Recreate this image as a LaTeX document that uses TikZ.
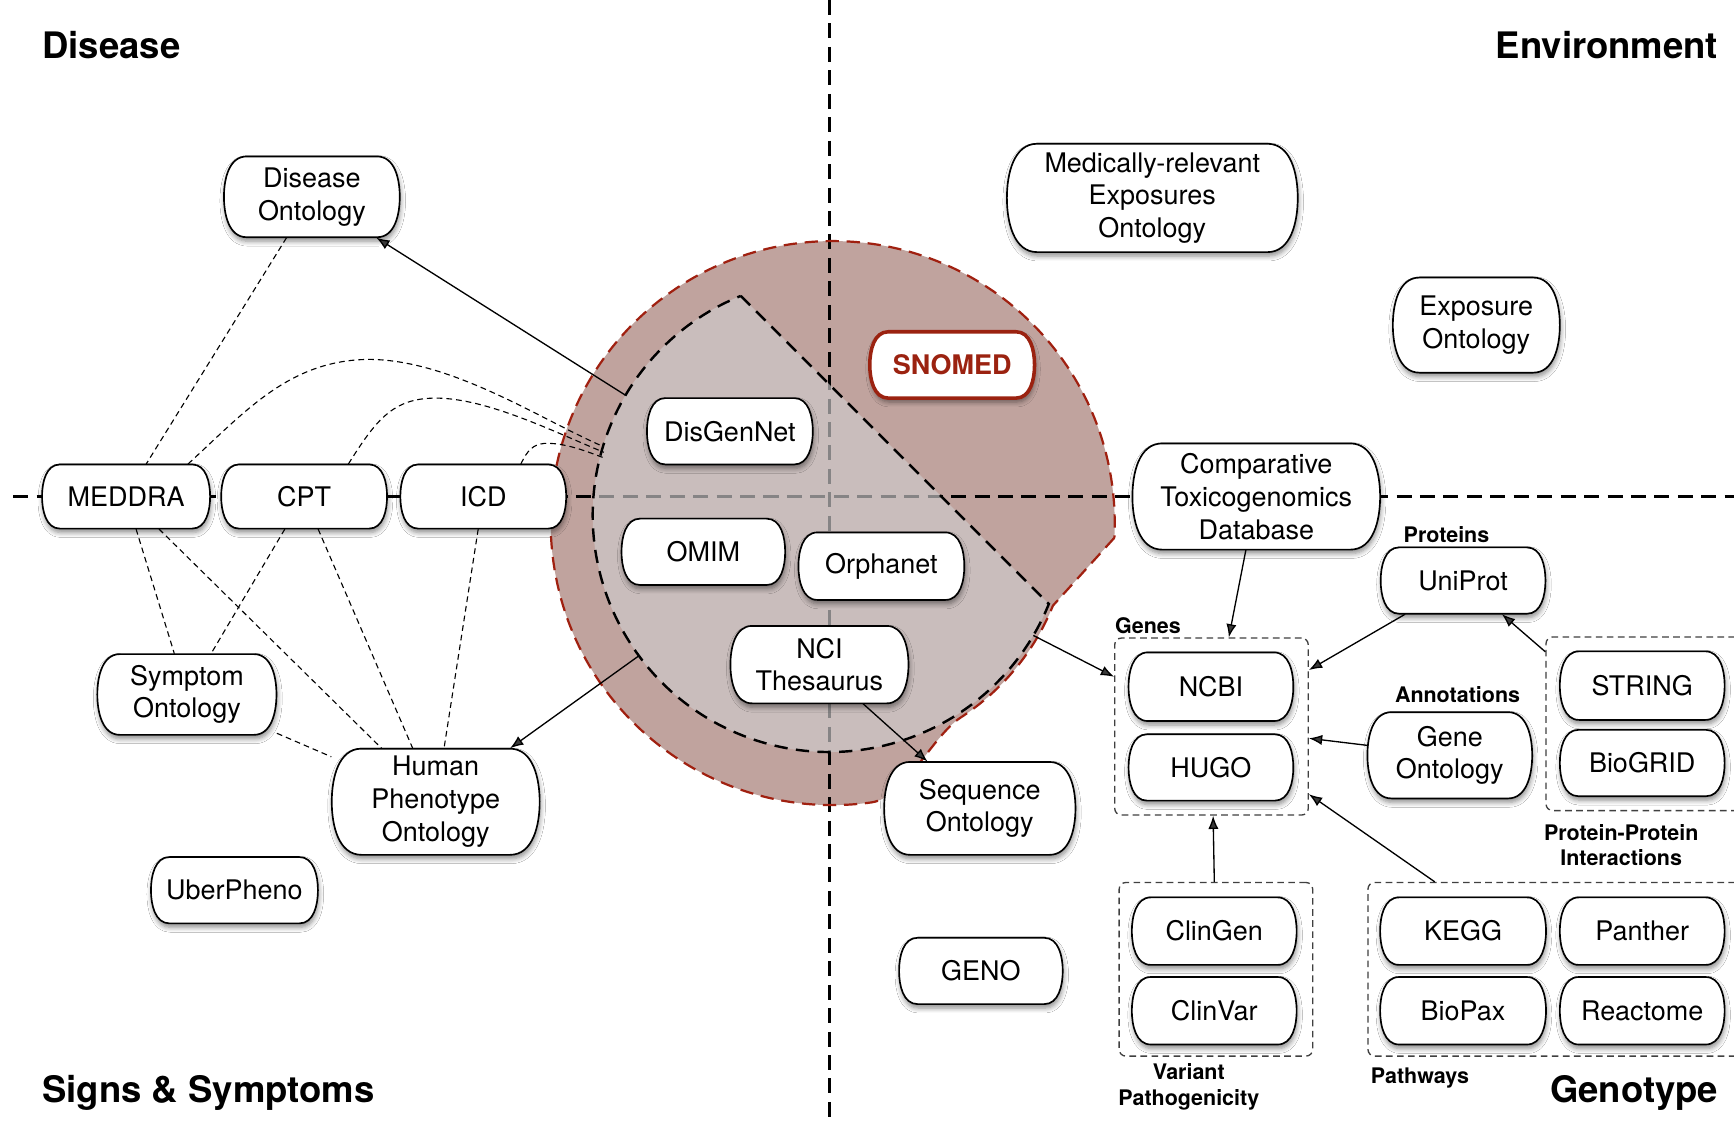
\documentclass[tikz,border=0pt]{standalone}
\usepackage{fontspec}
\setmainfont{TeX Gyre Heros}
\usetikzlibrary{shadows.blur,calc,fit,arrows.meta}
\definecolor{ringfill}{RGB}{192,163,158}
\definecolor{innerfill}{RGB}{206,204,205}
\definecolor{ringred}{RGB}{160,32,16}
\definecolor{snored}{RGB}{155,34,16}
\newcommand{\nodefont}{\fontsize{12.2}{14.8}\selectfont}
\newcommand{\labfont}{\fontsize{9.7}{11.5}\selectfont\bfseries}
\newcommand{\titfont}{\fontsize{16.5}{19}\selectfont\bfseries}
\tikzset{
  pill/.style={draw=black, line width=0.75pt, fill=white,
    blur shadow={shadow xshift=0.4pt, shadow yshift=-1.8pt, shadow blur radius=2.2pt,
      shadow opacity=45, shadow blur steps=6}},
  dbtext/.style={rectangle, draw=none, fill=none, align=center, inner sep=1pt, font=\nodefont},
  grp/.style={draw=black!75, line width=0.6pt, dash pattern=on 3pt off 2pt,
    rounded corners=3pt, inner sep=0pt},
  axisline/.style={line width=1.05pt, dash pattern=on 6.8pt off 3.8pt},
  conn/.style={line width=0.5pt, dash pattern=on 2.6pt off 1.8pt},
  arr/.style={line width=0.6pt, -{Latex[length=6pt,width=4.6pt]}},
  lab/.style={font=\labfont, inner sep=0pt, align=center},
  title/.style={font=\titfont, inner sep=0pt},
}
% \dbnode[path options]{name}{x}{y}{w}{h}{text}
\newcommand{\dbnode}[7][]{%
  \pgfmathsetmacro{\pxL}{#3-#5/2}%
  \pgfmathsetmacro{\pxR}{#3+#5/2}%
  \pgfmathsetmacro{\pxT}{#4-#6/2}%
  \pgfmathsetmacro{\pxB}{#4+#6/2}%
  \pgfmathsetmacro{\pxA}{0.28*#6}%
  \pgfmathsetmacro{\pxC}{0.22*\pxA}%
  \pgfmathsetmacro{\pxV}{0.28*#6}%
  \path[pill,#1] (\pxL+\pxA,\pxT) -- (\pxR-\pxA,\pxT)
    .. controls (\pxR-\pxC,\pxT) and (\pxR,\pxT+\pxV) .. (\pxR,#4)
    .. controls (\pxR,\pxB-\pxV) and (\pxR-\pxC,\pxB) .. (\pxR-\pxA,\pxB)
    -- (\pxL+\pxA,\pxB)
    .. controls (\pxL+\pxC,\pxB) and (\pxL,\pxB-\pxV) .. (\pxL,#4)
    .. controls (\pxL,\pxT+\pxV) and (\pxL+\pxC,\pxT) .. (\pxL+\pxA,\pxT) -- cycle;
  \node[dbtext, minimum width=#5*0.5pt, minimum height=#6*0.5pt] (#2) at (#3,#4) {#7};
}
\begin{document}
\begin{tikzpicture}[x=0.5pt,y=-0.5pt]
\fill[white] (0,0) rectangle (1568,1015);
\useasboundingbox (0,0) rectangle (1568,1015);
\coordinate (ci) at (750,466);
\coordinate (co) at (753,473);

% outer ring fill
\fill[ringfill] ($(co)+(3:255)$) -- ($(ci)+(22:218)$)
  arc[start angle=22,end angle=57,radius=218]
  .. controls (843.5,665) and (818,721) .. ($(co)+(82:255)$)
  arc[start angle=82,end angle=363,radius=255] -- cycle;

% axes
\draw[axisline] (12,449) -- (1568,449);
\draw[axisline] (750,0) -- (750,1015);

% inner region
\fill[innerfill, fill opacity=0.65] ($(ci)+(248:214)$) -- ($(ci)+(22:214)$)
  arc[start angle=22,end angle=248,radius=214] -- cycle;
\draw[line width=1.1pt, dash pattern=on 6pt off 3.8pt] ($(ci)+(248:214)$) -- ($(ci)+(22:214)$)
  arc[start angle=22,end angle=248,radius=214] -- cycle;

% outer red border
\draw[ringred, line width=1pt, dash pattern=on 6pt off 3.5pt] ($(co)+(3:255)$) -- ($(ci)+(22:218)$)
  arc[start angle=22,end angle=57,radius=218]
  .. controls (843.5,665) and (818,721) .. ($(co)+(82:255)$)
  arc[start angle=82,end angle=363,radius=255] -- cycle;

\coordinate (e1) at ($(ci)+(210.5:214)$);
\coordinate (e2) at ($(ci)+(143.6:214)$);
\coordinate (e3) at ($(ci)+(30.5:214)$);

% titles
\node[title, anchor=base west] (tdis) at (38,53) {Disease};
\node[title, anchor=base east] (tenv) at (1554,53) {Environment};
\node[title, anchor=base west] (tsig) at (38,997) {Signs \& Symptoms};
\node[title, anchor=base east] (tgen) at (1554,997) {Genotype};

% group boxes
\node[grp, fit={(1008,577) (1183,737)}] (genes) {};
\node[grp, fit={(1398,576) (1585,733)}] (ppi) {};
\node[grp, fit={(1012,798) (1187,955)}] (variant) {};
\node[grp, fit={(1237,798) (1585,955)}] (pathways) {};

% group labels
\node[lab] (lprot) at (1308,483) {Proteins};
\node[lab, anchor=base west] (lgenes) at (1008,573) {Genes};
\node[lab] (lannot) at (1318,628) {Annotations};
\node[lab] (lppi) at (1466,764) {Protein-Protein\\Interactions};
\node[lab] (lvar) at (1075,983) {Variant\\Pathogenicity};
\node[lab] (lpath) at (1284,975) {Pathways};

% nodes
\dbnode{dis}{282}{178}{159}{73}{Disease\\Ontology}
\dbnode{meddra}{114}{449}{152}{58}{MEDDRA}
\dbnode{cpt}{275}{449}{150}{58}{CPT}
\dbnode{icd}{437}{449}{150}{58}{ICD}
\dbnode{symp}{169}{628}{162}{73}{Symptom\\Ontology}
\dbnode{hpo}{394}{725}{188}{96}{Human\\Phenotype\\Ontology}
\dbnode{uber}{212}{805}{151}{60}{UberPheno}
\dbnode{disgen}{660}{390}{150}{60}{DisGenNet}
\dbnode{omim}{636}{499}{148}{60}{OMIM}
\dbnode{orpha}{797}{512}{150}{61}{Orphanet}
\dbnode{nci}{741}{601}{161}{70}{NCI\\Thesaurus}
\dbnode[draw=snored, line width=1.6pt]{snomed}{861}{330}{149}{60}{\color{snored}\bfseries SNOMED}
\dbnode{meo}{1042}{179}{263}{98}{Medically-relevant\\Exposures\\Ontology}
\dbnode{expo}{1335}{294}{151}{86}{Exposure\\Ontology}
\dbnode{ctd}{1136}{449}{224}{96}{Comparative\\Toxicogenomics\\Database}
\dbnode{seqo}{886}{731}{173}{84}{Sequence\\Ontology}
\dbnode{geno}{887}{878}{148}{60}{GENO}
\dbnode{uniprot}{1323}{525}{149}{60}{UniProt}
\dbnode{ncbi}{1095}{621}{149}{62}{NCBI}
\dbnode{hugo}{1095}{694}{149}{60}{HUGO}
\dbnode{go}{1311}{683}{149}{78}{Gene\\Ontology}
\dbnode{string}{1485}{620}{149}{62}{STRING}
\dbnode{biogrid}{1485}{690}{149}{60}{BioGRID}
\dbnode{clingen}{1098}{842}{149}{61}{ClinGen}
\dbnode{clinvar}{1098}{914}{149}{61}{ClinVar}
\dbnode{kegg}{1323}{842}{150}{61}{KEGG}
\dbnode{panther}{1485}{842}{149}{61}{Panther}
\dbnode{biopax}{1323}{914}{150}{61}{BioPax}
\dbnode{reactome}{1485}{914}{149}{61}{Reactome}

% dashed links
\draw[conn] (dis) -- (meddra);
\draw[conn] (meddra) -- (symp);
\draw[conn] (meddra) -- (hpo);
\draw[conn] (cpt) -- (symp);
\draw[conn] (cpt) -- (hpo);
\draw[conn] (icd) -- (hpo);
\draw[conn] (symp) -- (hpo);
\draw[conn] ($(meddra.north)+(56,0)$) .. controls (222,372) and (262,325) .. (335,325)
  .. controls (410,326) and (490,380) .. (546,404);
\draw[conn] ($(cpt.north)+(40,0)$) .. controls (340,380) and (355,360) .. (394,360)
  .. controls (440,360) and (500,390) .. (546,409);
\draw[conn] ($(icd.north)+(34,0)$) .. controls (477,407) and (482,402) .. (492,401)
  .. controls (510,400) and (530,408) .. (546,414);

% arrows
\draw[arr] (e1) -- (dis);
\draw[arr] (e2) -- (hpo);
\draw[arr] (nci) -- (seqo);
\draw[arr] (e3) -- (genes);
\draw[arr] (ctd) -- (genes);
\draw[arr] (uniprot) -- (genes);
\draw[arr] ($(ppi.north west)+(0,14)$) -- (uniprot);
\draw[arr] (go) -- (genes);
\draw[arr] (pathways) -- (genes);
\draw[arr] (variant) -- (genes);
\end{tikzpicture}
\end{document}
